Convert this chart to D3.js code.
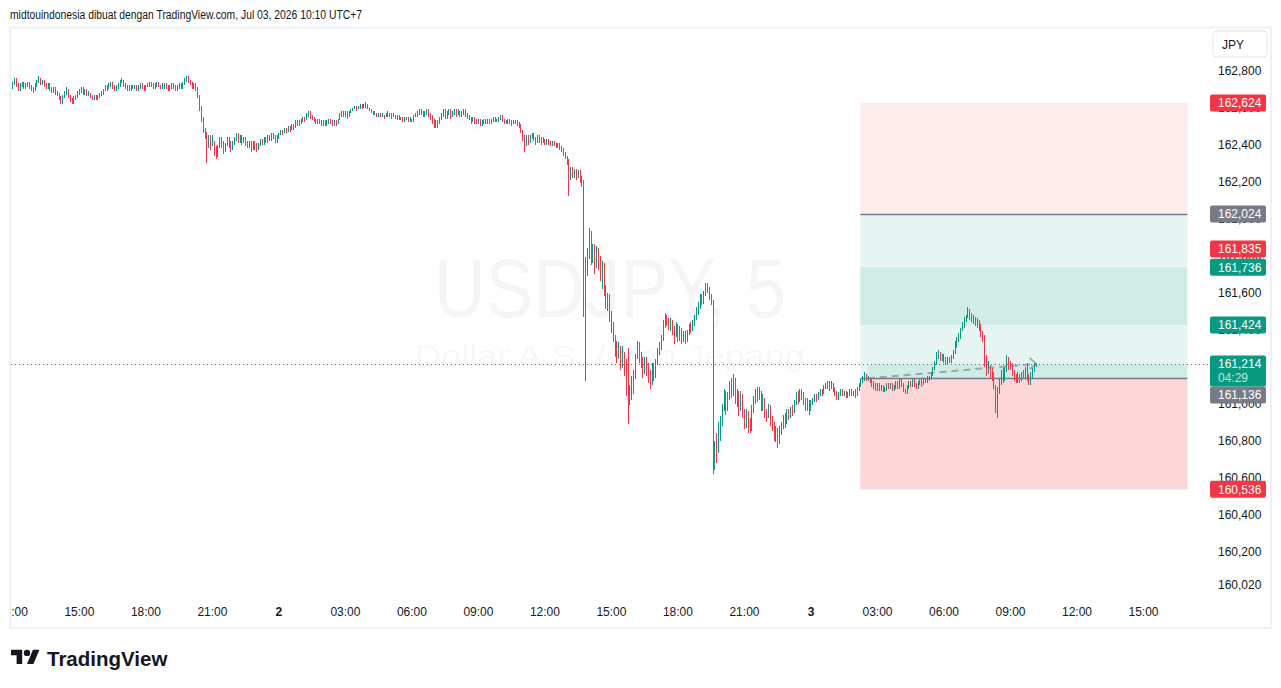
<!DOCTYPE html>
<html>
<head>
<meta charset="utf-8">
<script src="https://cdn.jsdelivr.net/npm/d3@7"></script>
<style>
  body { margin: 0; background: #fff; }
  svg { display: block; font-family: "Liberation Sans", Arial, sans-serif; }
</style>
</head>
<body>
<div id="chart"></div>
<script>
// USDJPY 5 minute bars, Jul 1 12:00 -> Jul 3 10:10 (UTC+7), one row = one hour
const firstOpen = 162.71;
const close = [
  162.73,162.75,162.72,162.70,162.72,162.73,162.71,162.72,162.73,162.71,162.70,162.69,
  162.72,162.74,162.75,162.73,162.74,162.72,162.71,162.72,162.70,162.69,162.70,162.68,
  162.67,162.65,162.63,162.66,162.68,162.70,162.66,162.64,162.63,162.65,162.66,162.68,
  162.69,162.70,162.68,162.69,162.67,162.68,162.66,162.65,162.66,162.65,162.66,162.67,
  162.68,162.69,162.71,162.70,162.72,162.73,162.71,162.70,162.71,162.72,162.74,162.75,
  162.72,162.71,162.70,162.71,162.70,162.71,162.71,162.70,162.71,162.72,162.71,162.70,
  162.71,162.72,162.73,162.72,162.71,162.72,162.73,162.72,162.71,162.72,162.72,162.71,
  162.70,162.71,162.72,162.71,162.70,162.71,162.72,162.71,162.73,162.75,162.76,162.74,
  162.73,162.71,162.72,162.70,162.66,162.60,162.54,162.48,162.45,162.40,162.43,162.41,
  162.41,162.37,162.35,162.39,162.42,162.40,162.37,162.40,162.42,162.41,162.38,162.41,
  162.43,162.45,162.43,162.44,162.42,162.43,162.41,162.40,162.41,162.39,162.41,162.40,
  162.38,162.40,162.42,162.41,162.43,162.42,162.44,162.43,162.45,162.44,162.43,162.44,
  // Jul 2
  162.45,162.47,162.46,162.48,162.47,162.49,162.48,162.50,162.49,162.52,162.51,162.52,
  162.53,162.54,162.53,162.56,162.57,162.55,162.54,162.53,162.52,162.53,162.52,162.51,
  162.52,162.51,162.52,162.53,162.52,162.51,162.52,162.51,162.53,162.55,162.57,162.56,
  162.57,162.55,162.57,162.58,162.59,162.60,162.59,162.60,162.61,162.60,162.61,162.62,
  162.60,162.59,162.58,162.57,162.57,162.56,162.57,162.56,162.56,162.55,162.56,162.57,
  162.56,162.55,162.56,162.55,162.54,162.55,162.54,162.53,162.54,162.54,162.53,162.54,
  162.53,162.55,162.56,162.57,162.58,162.57,162.56,162.57,162.58,162.56,162.55,162.53,
  162.51,162.50,162.52,162.54,162.56,162.58,162.55,162.57,162.58,162.56,162.57,162.58,
  162.57,162.58,162.56,162.57,162.58,162.57,162.55,162.54,162.53,162.54,162.53,162.52,
  162.53,162.51,162.52,162.53,162.52,162.53,162.52,162.53,162.54,162.53,162.53,162.54,
  162.55,162.53,162.52,162.52,162.53,162.52,162.51,162.52,162.52,162.51,162.50,162.47,
  162.43,162.40,162.44,162.42,162.44,162.45,162.43,162.42,162.44,162.43,162.42,162.43,
  162.41,162.42,162.41,162.40,162.41,162.40,162.39,162.40,162.38,162.37,162.35,162.33,
  162.31,162.22,162.27,162.24,162.26,162.23,162.25,162.22,162.20,161.49,161.72,161.80,
  161.90,161.80,161.84,161.75,161.82,161.78,161.70,161.74,161.62,161.55,161.58,161.48,
  161.42,161.36,161.32,161.26,161.30,161.22,161.27,161.20,161.10,161.00,161.06,161.10,
  161.16,161.25,161.30,161.26,161.22,161.18,161.23,161.20,161.14,161.12,161.19,161.16,
  161.22,161.28,161.31,161.35,161.43,161.47,161.45,161.42,161.44,161.40,161.38,161.42,
  161.36,161.40,161.34,161.37,161.35,161.38,161.42,161.40,161.44,161.47,161.50,161.53,
  161.57,161.55,161.60,161.63,161.62,161.58,161.55,160.70,160.78,160.74,160.86,160.90,
  160.98,161.05,160.97,161.04,161.10,161.06,161.13,161.02,161.05,160.98,161.04,160.96,
  160.90,160.94,160.88,160.86,160.97,161.02,161.06,161.04,161.07,160.98,161.02,160.95,
  160.93,160.98,160.90,160.88,160.82,160.86,160.80,160.84,160.88,160.92,160.90,160.95,
  160.93,160.97,160.96,161.00,161.04,161.02,161.06,161.05,161.02,160.98,161.00,160.97,
  // Jul 3
  161.00,161.02,161.04,161.03,161.05,161.07,161.06,161.09,161.10,161.11,161.09,161.11,
  161.08,161.06,161.04,161.05,161.07,161.05,161.06,161.04,161.05,161.07,161.05,161.06,
  161.05,161.08,161.10,161.12,161.14,161.15,161.13,161.14,161.12,161.11,161.10,161.09,
  161.10,161.08,161.09,161.07,161.08,161.10,161.09,161.10,161.08,161.09,161.11,161.09,
  161.12,161.10,161.07,161.06,161.09,161.11,161.10,161.12,161.10,161.09,161.11,161.12,
  161.11,161.13,161.12,161.14,161.13,161.16,161.19,161.22,161.26,161.27,161.24,161.25,
  161.23,161.22,161.24,161.23,161.25,161.28,161.33,161.35,161.36,161.40,161.42,161.45,
  161.47,161.50,161.47,161.45,161.46,161.43,161.44,161.41,161.38,161.36,161.23,161.18,
  161.19,161.16,161.14,161.10,160.99,161.07,161.12,161.16,161.13,161.18,161.24,161.22,
  161.20,161.17,161.14,161.12,161.15,161.13,161.16,161.14,161.19,161.13,161.11,161.15,
  161.18,161.20,161.214
];
const high = [
  162.74,162.76,162.76,162.73,162.73,162.74,162.74,162.73,162.74,162.74,162.72,162.71,
  162.73,162.75,162.77,162.76,162.75,162.75,162.73,162.73,162.73,162.71,162.71,162.71,
  162.69,162.68,162.66,162.67,162.69,162.71,162.70,162.67,162.65,162.66,162.67,162.69,
  162.70,162.71,162.71,162.70,162.70,162.69,162.68,162.67,162.67,162.67,162.67,162.68,
  162.69,162.70,162.72,162.72,162.73,162.74,162.74,162.72,162.72,162.73,162.75,162.76,
  162.74,162.73,162.72,162.72,162.72,162.72,162.72,162.72,162.72,162.73,162.73,162.72,
  162.72,162.73,162.74,162.74,162.73,162.73,162.74,162.74,162.72,162.73,162.73,162.73,
  162.72,162.72,162.73,162.73,162.72,162.72,162.73,162.73,162.74,162.76,162.77,162.77,
  162.75,162.74,162.73,162.73,162.71,162.67,162.61,162.55,162.49,162.47,162.45,162.45,
  162.45,162.42,162.39,162.40,162.44,162.44,162.42,162.41,162.44,162.44,162.42,162.42,
  162.44,162.46,162.46,162.45,162.45,162.44,162.44,162.42,162.42,162.42,162.42,162.42,
  162.41,162.41,162.43,162.43,162.44,162.44,162.45,162.45,162.46,162.46,162.45,162.45,
  // Jul 2
  162.46,162.48,162.48,162.49,162.49,162.50,162.50,162.51,162.51,162.53,162.53,162.53,
  162.54,162.55,162.55,162.57,162.58,162.58,162.56,162.55,162.54,162.54,162.54,162.53,
  162.53,162.53,162.53,162.54,162.54,162.53,162.53,162.53,162.54,162.57,162.58,162.58,
  162.58,162.58,162.58,162.59,162.60,162.61,162.61,162.61,162.62,162.62,162.62,162.63,
  162.62,162.60,162.59,162.58,162.58,162.57,162.57,162.57,162.57,162.56,162.57,162.58,
  162.57,162.57,162.57,162.56,162.56,162.56,162.55,162.55,162.55,162.55,162.55,162.55,
  162.54,162.56,162.57,162.58,162.59,162.59,162.58,162.58,162.59,162.59,162.57,162.56,
  162.54,162.53,162.53,162.55,162.57,162.59,162.59,162.58,162.59,162.59,162.58,162.59,
  162.59,162.59,162.58,162.58,162.59,162.59,162.57,162.56,162.55,162.55,162.55,162.54,
  162.54,162.54,162.53,162.54,162.54,162.54,162.54,162.54,162.55,162.55,162.54,162.55,
  162.56,162.56,162.54,162.53,162.54,162.54,162.53,162.53,162.53,162.53,162.52,162.51,
  162.48,162.45,162.45,162.45,162.45,162.46,162.46,162.44,162.45,162.45,162.44,162.44,
  162.43,162.43,162.43,162.42,162.42,162.42,162.41,162.41,162.41,162.39,162.38,162.36,
  162.34,162.32,162.28,162.28,162.27,162.27,162.26,162.26,162.23,162.21,161.79,161.84,
  161.95,161.93,161.86,161.86,161.85,161.84,161.80,161.77,161.76,161.64,161.60,161.59,
  161.50,161.44,161.37,161.34,161.33,161.31,161.31,161.28,161.24,161.30,161.10,161.15,
  161.18,161.27,161.34,161.33,161.28,161.25,161.25,161.25,161.22,161.18,161.22,161.22,
  161.24,161.30,161.33,161.37,161.45,161.49,161.48,161.46,161.46,161.45,161.42,161.44,
  161.43,161.42,161.41,161.39,161.39,161.40,161.43,161.44,161.45,161.48,161.52,161.55,
  161.59,161.59,161.61,161.65,161.65,161.63,161.59,161.56,160.80,160.84,160.90,160.93,
  161.00,161.08,161.07,161.06,161.12,161.14,161.16,161.14,161.08,161.07,161.07,161.05,
  160.97,160.97,160.96,160.92,160.99,161.04,161.08,161.09,161.09,161.07,161.05,161.03,
  160.97,161.00,160.99,160.93,160.90,160.88,160.87,160.88,160.90,160.94,160.95,160.97,
  160.97,160.98,160.99,161.02,161.06,161.07,161.08,161.08,161.06,161.03,161.03,161.02,
  // Jul 3
  161.02,161.03,161.05,161.05,161.06,161.08,161.08,161.10,161.11,161.12,161.12,161.12,
  161.11,161.09,161.07,161.06,161.08,161.08,161.07,161.07,161.06,161.08,161.08,161.07,
  161.08,161.09,161.11,161.13,161.15,161.17,161.16,161.15,161.14,161.13,161.12,161.11,
  161.11,161.11,161.10,161.10,161.09,161.11,161.11,161.11,161.11,161.10,161.12,161.12,
  161.13,161.13,161.11,161.08,161.10,161.12,161.12,161.13,161.13,161.11,161.12,161.13,
  161.13,161.14,161.14,161.15,161.15,161.17,161.20,161.23,161.28,161.29,161.28,161.27,
  161.27,161.25,161.25,161.25,161.26,161.29,161.34,161.36,161.38,161.41,161.44,161.47,
  161.48,161.52,161.51,161.49,161.48,161.47,161.46,161.45,161.43,161.39,161.37,161.26,
  161.23,161.21,161.19,161.17,161.10,161.09,161.14,161.18,161.19,161.20,161.26,161.25,
  161.23,161.22,161.18,161.16,161.17,161.16,161.17,161.18,161.20,161.22,161.16,161.17,
  161.19,161.22,161.22
];
const low = [
  162.70,162.72,162.71,162.69,162.69,162.71,162.70,162.70,162.71,162.70,162.69,162.68,
  162.70,162.71,162.73,162.72,162.72,162.71,162.70,162.70,162.69,162.68,162.68,162.67,
  162.66,162.64,162.62,162.62,162.65,162.67,162.65,162.63,162.62,162.62,162.64,162.65,
  162.67,162.68,162.67,162.67,162.66,162.66,162.65,162.64,162.64,162.64,162.64,162.65,
  162.66,162.67,162.69,162.69,162.70,162.71,162.70,162.69,162.69,162.70,162.71,162.73,
  162.71,162.70,162.69,162.69,162.69,162.70,162.70,162.69,162.69,162.70,162.70,162.69,
  162.69,162.71,162.71,162.71,162.70,162.70,162.71,162.71,162.70,162.70,162.70,162.70,
  162.69,162.69,162.70,162.70,162.69,162.69,162.70,162.70,162.70,162.72,162.74,162.73,
  162.72,162.70,162.70,162.69,162.65,162.58,162.52,162.46,162.43,162.30,162.38,162.37,
  162.39,162.34,162.32,162.33,162.38,162.38,162.35,162.36,162.39,162.38,162.36,162.37,
  162.40,162.42,162.41,162.41,162.40,162.41,162.39,162.38,162.38,162.36,162.37,162.37,
  162.36,162.37,162.39,162.40,162.40,162.41,162.41,162.42,162.42,162.43,162.41,162.41,
  // Jul 2
  162.43,162.45,162.45,162.46,162.46,162.47,162.47,162.48,162.48,162.49,162.50,162.50,
  162.51,162.52,162.52,162.53,162.55,162.54,162.53,162.52,162.51,162.51,162.51,162.50,
  162.50,162.50,162.50,162.51,162.51,162.50,162.50,162.50,162.51,162.53,162.55,162.55,
  162.55,162.54,162.55,162.57,162.58,162.59,162.58,162.59,162.59,162.59,162.60,162.60,
  162.59,162.58,162.57,162.56,162.56,162.55,162.55,162.55,162.55,162.54,162.55,162.55,
  162.55,162.54,162.55,162.54,162.53,162.53,162.53,162.52,162.52,162.53,162.52,162.52,
  162.52,162.52,162.55,162.55,162.56,162.56,162.55,162.55,162.56,162.55,162.53,162.51,
  162.49,162.49,162.49,162.51,162.53,162.55,162.54,162.54,162.56,162.54,162.55,162.56,
  162.55,162.56,162.55,162.55,162.56,162.55,162.54,162.53,162.51,162.52,162.51,162.51,
  162.51,162.50,162.50,162.51,162.51,162.51,162.51,162.51,162.52,162.52,162.52,162.52,
  162.53,162.52,162.51,162.51,162.51,162.51,162.50,162.51,162.51,162.50,162.49,162.46,
  162.42,162.36,162.39,162.40,162.41,162.43,162.42,162.40,162.41,162.41,162.40,162.41,
  162.40,162.40,162.40,162.39,162.39,162.39,162.38,162.38,162.37,162.36,162.34,162.32,
  162.29,162.12,162.21,162.22,162.22,162.21,162.22,162.19,162.17,161.47,161.12,161.69,
  161.78,161.75,161.76,161.70,161.73,161.72,161.66,161.62,161.58,161.51,161.50,161.44,
  161.38,161.33,161.25,161.22,161.24,161.18,161.19,161.15,161.04,160.89,160.99,161.02,
  161.05,161.13,161.24,161.22,161.19,161.14,161.16,161.15,161.11,161.08,161.10,161.12,
  161.14,161.21,161.26,161.29,161.34,161.41,161.42,161.40,161.39,161.37,161.32,161.36,
  161.33,161.34,161.32,161.33,161.32,161.33,161.37,161.38,161.39,161.42,161.45,161.48,
  161.51,161.53,161.54,161.58,161.60,161.56,161.53,160.62,160.64,160.68,160.73,160.80,
  160.88,160.96,160.94,160.96,161.02,161.03,161.04,161.00,160.98,160.93,160.96,160.92,
  160.86,160.87,160.84,160.84,160.85,160.95,161.00,161.01,161.02,160.96,160.96,160.92,
  160.90,160.92,160.88,160.85,160.80,160.79,160.76,160.78,160.83,160.86,160.87,160.89,
  160.91,160.92,160.93,160.95,160.99,161.00,161.01,161.02,160.99,160.96,160.96,160.94,
  // Jul 3
  160.96,160.99,161.01,161.01,161.02,161.04,161.04,161.05,161.08,161.08,161.07,161.08,
  161.06,161.04,161.02,161.02,161.04,161.04,161.04,161.03,161.03,161.04,161.04,161.04,
  161.03,161.04,161.07,161.09,161.11,161.12,161.12,161.12,161.11,161.09,161.08,161.07,
  161.07,161.07,161.07,161.06,161.06,161.07,161.08,161.08,161.07,161.07,161.08,161.08,
  161.08,161.09,161.06,161.05,161.05,161.08,161.09,161.09,161.09,161.08,161.08,161.10,
  161.09,161.10,161.11,161.11,161.12,161.13,161.15,161.18,161.21,161.24,161.23,161.23,
  161.22,161.21,161.21,161.22,161.22,161.24,161.27,161.30,161.33,161.35,161.39,161.41,
  161.44,161.46,161.45,161.44,161.43,161.42,161.41,161.39,161.36,161.33,161.20,161.15,
  161.16,161.14,161.12,161.08,160.95,160.92,161.05,161.10,161.11,161.12,161.17,161.18,
  161.18,161.15,161.12,161.11,161.11,161.11,161.12,161.13,161.13,161.12,161.10,161.10,
  161.14,161.17,161.20
];

// price scale labels
const priceTicks = [162.8, 162.6, 162.4, 162.2, 162.0, 161.8, 161.6, 161.4, 161.2, 161.0, 160.8, 160.6, 160.4, 160.2, 160.02];

// two position tools drawn on Jul 3 (short above, long below)
const entryPrices = [162.024, 161.136];
const stopPrices = [162.624, 160.536];
const targetPrices = [161.424, 161.736];
const alertPrices = [161.835];
const currentPrice = 161.214;
const countdown = "04:29";

const width = 1281, height = 688;
const plot = {left: 10, top: 28, right: 1204, bottom: 598};
const green = "#089981", red = "#f23645", grey = "#787b86", ink = "#131722";

const utc = (d, h, m) => new Date(Date.UTC(2026, 6, d, h, m || 0));
const t0 = utc(1, 12);
const boxStart = utc(3, 2, 15), entryTime = utc(3, 2, 35), boxEnd = utc(3, 17);

const bars = close.map((c, i) => ({
  t: new Date(+t0 + i * 300000),
  o: i ? close[i - 1] : firstOpen,
  h: high[i], l: low[i], c: c
}));
const lastTime = bars[bars.length - 1].t;

const x = d3.scaleUtc().domain([utc(1, 12), utc(3, 15)]).range([12.4, 1143]);
const y = d3.scaleLinear().domain([160.2, 162.8]).range([551.5, 70.5]);
const fmtPrice = d3.formatLocale({decimal: ",", thousands: ".", grouping: [3], currency: ["", ""]}).format(".3f");

const svg = d3.select("#chart").append("svg")
  .attr("width", width).attr("height", height);

svg.append("rect").attr("width", width).attr("height", height).attr("fill", "#fff");

// header
svg.append("text")
  .attr("x", 10).attr("y", 19)
  .attr("font-size", 12.5).attr("fill", ink)
  .attr("textLength", 352).attr("lengthAdjust", "spacingAndGlyphs")
  .text("midtouindonesia dibuat dengan TradingView.com, Jul 03, 2026 10:10 UTC+7");

// outer frame
svg.append("rect")
  .attr("x", 10).attr("y", 27.5).attr("width", 1261).attr("height", 600.5)
  .attr("fill", "none").attr("stroke", "#f0f1f4").attr("stroke-width", 2);

const defs = svg.append("defs");
defs.append("clipPath").attr("id", "plotclip").append("rect")
  .attr("x", plot.left + 1).attr("y", plot.top).attr("width", plot.right - plot.left - 1).attr("height", plot.bottom - plot.top);
defs.append("clipPath").attr("id", "timeclip").append("rect")
  .attr("x", plot.left + 1).attr("y", plot.bottom).attr("width", plot.right - plot.left - 1).attr("height", 28);

const g = svg.append("g").attr("clip-path", "url(#plotclip)");

// watermark
g.append("text")
  .attr("x", 610).attr("y", 317).attr("text-anchor", "middle")
  .attr("font-size", 84).attr("fill", ink).attr("fill-opacity", 0.045)
  .attr("textLength", 352).attr("lengthAdjust", "spacingAndGlyphs")
  .text("USDJPY, 5");
g.append("text")
  .attr("x", 610).attr("y", 366).attr("text-anchor", "middle")
  .attr("font-size", 30).attr("fill", ink).attr("fill-opacity", 0.045)
  .attr("textLength", 390).attr("lengthAdjust", "spacingAndGlyphs")
  .text("Dollar A.S. / Yen Jepang");

// position tools
const bx0 = x(boxStart), bx1 = x(boxEnd);
const zones = [
  {a: stopPrices[0], b: entryPrices[0], color: red, op: 0.1},
  {a: entryPrices[0], b: targetPrices[0], color: green, op: 0.1},
  {a: targetPrices[1], b: entryPrices[1], color: green, op: 0.1},
  {a: entryPrices[1], b: stopPrices[1], color: red, op: 0.2}
];
g.selectAll("rect.zone").data(zones).join("rect")
  .attr("class", "zone")
  .attr("x", bx0).attr("width", bx1 - bx0)
  .attr("y", d => y(Math.max(d.a, d.b)))
  .attr("height", d => Math.abs(y(d.a) - y(d.b)))
  .attr("fill", d => d.color).attr("fill-opacity", d => d.op);

// open trade part of the long position
g.append("rect")
  .attr("x", x(entryTime)).attr("width", bx1 - x(entryTime))
  .attr("y", y(currentPrice)).attr("height", y(entryPrices[1]) - y(currentPrice))
  .attr("fill", green).attr("fill-opacity", 0.1);

g.selectAll("line.entry").data(entryPrices).join("line")
  .attr("class", "entry")
  .attr("x1", bx0).attr("x2", bx1)
  .attr("y1", d => Math.round(y(d)) + 0.5).attr("y2", d => Math.round(y(d)) + 0.5)
  .attr("stroke", grey).attr("stroke-width", 1.3);

// candles
const cg = g.append("g").attr("shape-rendering", "crispEdges");
cg.selectAll("rect").data(bars).join("rect")
  .attr("x", d => Math.round(x(d.t)))
  .attr("width", 1)
  .attr("y", d => y(Math.max(d.h, d.o, d.c)))
  .attr("height", d => Math.max(1, y(Math.min(d.l, d.o, d.c)) - y(Math.max(d.h, d.o, d.c))))
  .attr("fill", d => d.c >= d.o ? green : red);

// entry -> current price dashed line
const ax0 = x(entryTime), ay0 = y(entryPrices[1]), ax1 = x(lastTime), ay1 = y(currentPrice);
g.append("line")
  .attr("x1", ax0).attr("y1", ay0).attr("x2", ax1).attr("y2", ay1)
  .attr("stroke", grey).attr("stroke-opacity", 0.6).attr("stroke-width", 2)
  .attr("stroke-dasharray", "7,5");
g.append("path")
  .attr("d", `M${ax1 - 6},${ay1 - 6} L${ax1},${ay1} L${ax1 - 6},${ay1 + 5}`)
  .attr("fill", "none").attr("stroke", grey).attr("stroke-opacity", 0.6).attr("stroke-width", 2);

// current price dotted line
svg.append("line")
  .attr("x1", plot.left + 1).attr("x2", 1210)
  .attr("y1", Math.round(y(currentPrice)) + 0.5).attr("y2", Math.round(y(currentPrice)) + 0.5)
  .attr("stroke", green).attr("stroke-width", 1).attr("stroke-dasharray", "1,3");

// time axis
const xAxis = d3.axisBottom(x)
  .ticks(d3.utcHour.every(3))
  .tickSize(0).tickPadding(0)
  .tickFormat(d => d.getUTCHours() === 0 ? d.getUTCDate() : d3.utcFormat("%H:%M")(d));
const xg = svg.append("g").attr("clip-path", "url(#timeclip)")
  .append("g").attr("transform", "translate(0,607.5)").call(xAxis);
xg.select(".domain").remove();
xg.attr("font-family", null).attr("font-size", 12);
xg.selectAll("text").attr("fill", ink)
  .attr("font-weight", d => d.getUTCHours() === 0 ? "bold" : null);

// price axis
const yAxis = d3.axisRight(y).tickValues(priceTicks).tickSize(0).tickPadding(0).tickFormat(fmtPrice);
const yg = svg.append("g").attr("transform", "translate(1218,0)").call(yAxis);
yg.select(".domain").remove();
yg.attr("font-family", null).attr("font-size", 12);
yg.selectAll("text").attr("fill", ink);

// currency button
svg.append("rect")
  .attr("x", 1213).attr("y", 31).attr("width", 54).attr("height", 26).attr("rx", 4)
  .attr("fill", "#fff").attr("stroke", "#e0e3eb");
svg.append("text")
  .attr("x", 1222).attr("y", 48.5).attr("font-size", 12).attr("fill", ink).text("JPY");

// price labels on the axis
const curTop = y(currentPrice) - 8.5, curBottom = curTop + 31;
let labels = []
  .concat(stopPrices.map(v => ({v: v, color: red})))
  .concat(alertPrices.map(v => ({v: v, color: red})))
  .concat(targetPrices.map(v => ({v: v, color: green})))
  .concat(entryPrices.map(v => ({v: v, color: grey})));
labels.forEach(d => {
  d.top = y(d.v) - 8.5;
  // keep clear of the last price label
  if (d.top < curBottom && d.top + 17 > curTop) d.top = curBottom;
});

const lg = svg.append("g").attr("font-size", 12);
const lab = lg.selectAll("g").data(labels).join("g");
lab.append("rect")
  .attr("x", 1210).attr("y", d => d.top).attr("width", 56).attr("height", 17).attr("rx", 2)
  .attr("fill", d => d.color);
lab.append("text")
  .attr("x", 1218).attr("y", d => d.top + 12.8)
  .attr("fill", "#fff").text(d => fmtPrice(d.v));

lg.append("rect")
  .attr("x", 1210).attr("y", curTop).attr("width", 56).attr("height", 31).attr("rx", 2)
  .attr("fill", green);
lg.append("text").attr("x", 1218).attr("y", curTop + 12.8).attr("fill", "#fff").text(fmtPrice(currentPrice));
lg.append("text").attr("x", 1218).attr("y", curTop + 26.5).attr("fill", "#fff").attr("fill-opacity", 0.75).text(countdown);

// TradingView logo
const logo = svg.append("g").attr("transform", "translate(11,646.5) scale(0.8)").attr("fill", ink);
logo.append("path").attr("d", "M14 22H7V11H0V4h14v18zM28 22h-8l7.5-18h8L28 22z");
logo.append("circle").attr("cx", 20).attr("cy", 8).attr("r", 4);
svg.append("text")
  .attr("x", 47).attr("y", 665.5)
  .attr("font-size", 20.5).attr("font-weight", "bold").attr("fill", ink)
  .text("TradingView");
</script>
</body>
</html>
